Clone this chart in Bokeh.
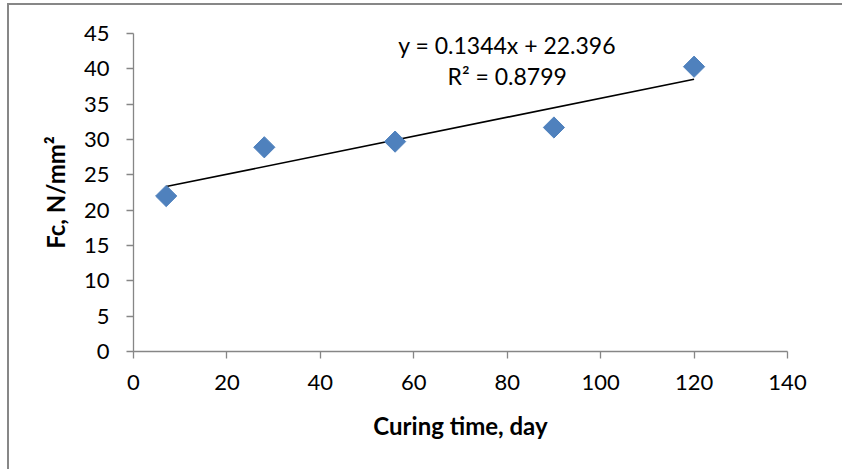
import numpy as np
from bokeh.plotting import figure
from bokeh.models import Range1d, SingleIntervalTicker, Label, ColumnDataSource
from bokeh.embed import file_html
from bokeh.resources import INLINE

# ---- data ----
days = [7, 28, 56, 90, 120]
fc = [22.0, 28.9, 29.7, 31.7, 40.3]
fit_slope = 0.1344
fit_intercept = 22.396
eq_text = "y = 0.1344x + 22.396"
r2_text = "R\u00b2 = 0.8799"
x_title = "Curing time, day"
y_title = "Fc, N/mm\u00b2"

FONT = "Lato"
AXIS_GRAY = "#868686"
BLUE = "#4F81BD"

p = figure(width=835, height=466, output_backend="svg", toolbar_location=None,
           x_range=Range1d(0, 140), y_range=Range1d(0, 45),
           min_border_left=124, min_border_right=57, min_border_top=28, min_border_bottom=120)
p.styles = {"border-left": "2px solid #878787", "border-top": "2px solid #878787",
            "margin-left": "7px", "margin-top": "3px"}
p.outline_line_color = None
p.grid.visible = False
p.background_fill_color = "white"
p.border_fill_color = "white"

p.xaxis.ticker = SingleIntervalTicker(interval=20)
p.yaxis.ticker = SingleIntervalTicker(interval=5)
for ax in (p.xaxis, p.yaxis):
    ax.axis_line_color = AXIS_GRAY
    ax.axis_line_width = 1.3
    ax.major_tick_line_color = AXIS_GRAY
    ax.major_tick_line_width = 1.3
    ax.major_tick_out = 7
    ax.major_tick_in = 0
    ax.minor_tick_line_color = None
    ax.major_label_text_font = FONT
    ax.major_label_text_font_size = "22px"
    ax.major_label_text_color = "black"
    ax.axis_label_text_font = FONT
    ax.axis_label_text_font_size = "24px"
    ax.axis_label_text_font_style = "bold"
    ax.axis_label_text_color = "black"

p.xaxis.axis_label = x_title
p.yaxis.axis_label = y_title
p.xaxis.major_label_standoff = 16
p.yaxis.major_label_standoff = 17
p.xaxis.axis_label_standoff = 18
p.yaxis.axis_label_standoff = 11

# trendline
tx = [min(days), max(days)]
ty = [fit_slope * v + fit_intercept for v in tx]
p.line(tx, ty, line_color="black", line_width=1.6)

src = ColumnDataSource(dict(x=days, y=fc))
p.scatter("x", "y", source=src, marker="square", size=15, angle=np.pi / 4,
          fill_color=BLUE, line_color=BLUE)

for txt, yy in ((eq_text, 43.4), (r2_text, 39.0)):
    p.add_layout(Label(x=80, y=yy, text=txt, text_align="center", text_baseline="middle",
                       text_font=FONT, text_font_size="23px", text_color="black"))

open("out.html", "w").write(file_html(p, INLINE))
